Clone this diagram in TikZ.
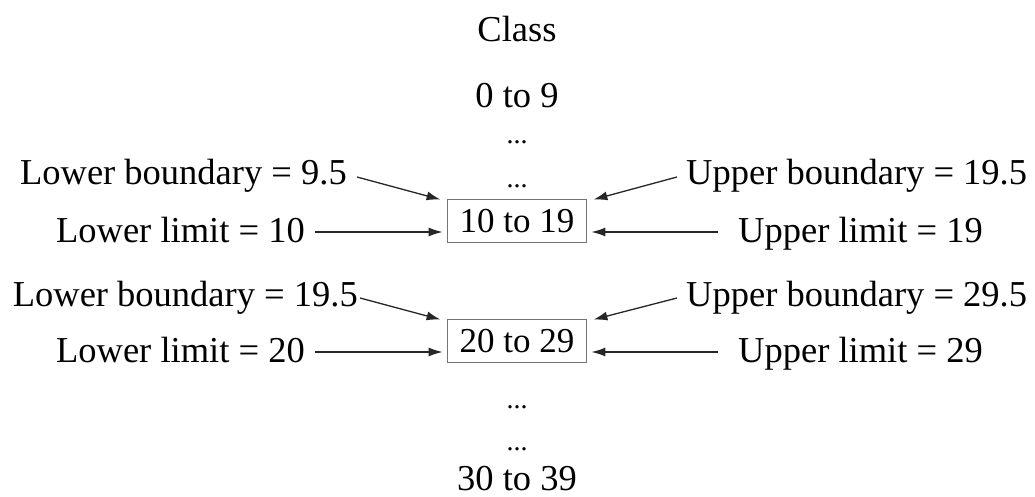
\documentclass[tikz,border=0pt]{standalone}
\usepackage{fontspec}
\setmainfont{Liberation Serif}
\usetikzlibrary{arrows.meta,calc}
\begin{document}
\begin{tikzpicture}[x=1pt,y=-1pt,
  txt/.style={inner sep=0pt,font=\fontsize{36.5}{40}\selectfont},
  dots/.style={inner sep=0pt,font=\fontsize{28}{30}\selectfont},
  classbox/.style={inner sep=0pt,font=\fontsize{35}{40}\selectfont,draw=black!55,line width=1.8pt,minimum width=139pt,minimum height=43pt},
  pointer/.style={line width=1.3pt,draw=black!85,-{Latex[length=14pt,width=9pt]}}]
\useasboundingbox (0,0) rectangle (1035,497);
% column of classes
\node[txt,anchor=base] (title) at (517,42) {Class};
\node[txt,anchor=base] (c0) at (517,108) {0 to 9};
\node[dots,anchor=base] (d1) at (517,144) {...};
\node[dots,anchor=base] (d2) at (517,187) {...};
\node[classbox] (b1) at (517,221) {10 to 19};
\node[classbox] (b2) at (517,341) {20 to 29};
\node[dots,anchor=base] (d3) at (517,408) {...};
\node[dots,anchor=base] (d4) at (517,450) {...};
\node[txt,anchor=base] (c3) at (517,490) {30 to 39};
% first class labels
\node[txt,anchor=base east] (lb1) at (347,185) {Lower boundary = 9.5};
\node[txt,anchor=base east] (ll1) at (305,242) {Lower limit = 10};
\node[txt,anchor=base west] (ub1) at (686,185) {Upper boundary = 19.5};
\node[txt,anchor=base west] (ul1) at (738,242) {Upper limit = 19};
% second class labels
\node[txt,anchor=base east] (lb2) at (358,306) {Lower boundary = 19.5};
\node[txt,anchor=base east] (ll2) at (305,362) {Lower limit = 20};
\node[txt,anchor=base west] (ub2) at (686,306) {Upper boundary = 29.5};
\node[txt,anchor=base west] (ul2) at (738,362) {Upper limit = 29};
% arrows into the boxes
\draw[pointer] ($(lb1.base east)+(10,-8)$) -- ($(b1.north west)+(-6,1)$);
\draw[pointer] ($(ll1.base east)+(10,-10)$) -- ($(ll1.base east -| b1.west)+(-4,-10)$);
\draw[pointer] ($(ub1.base west)+(-9,-8)$) -- ($(b1.north east)+(6,1)$);
\draw[pointer] ($(ul1.base west)+(-20,-10)$) -- ($(ul1.base west -| b1.east)+(4,-10)$);
\draw[pointer] ($(lb2.base east)+(2,-8)$) -- ($(b2.north west)+(-6,1)$);
\draw[pointer] ($(ll2.base east)+(10,-10)$) -- ($(ll2.base east -| b2.west)+(-4,-10)$);
\draw[pointer] ($(ub2.base west)+(-9,-8)$) -- ($(b2.north east)+(6,1)$);
\draw[pointer] ($(ul2.base west)+(-20,-10)$) -- ($(ul2.base west -| b2.east)+(4,-10)$);
\end{tikzpicture}
\end{document}
